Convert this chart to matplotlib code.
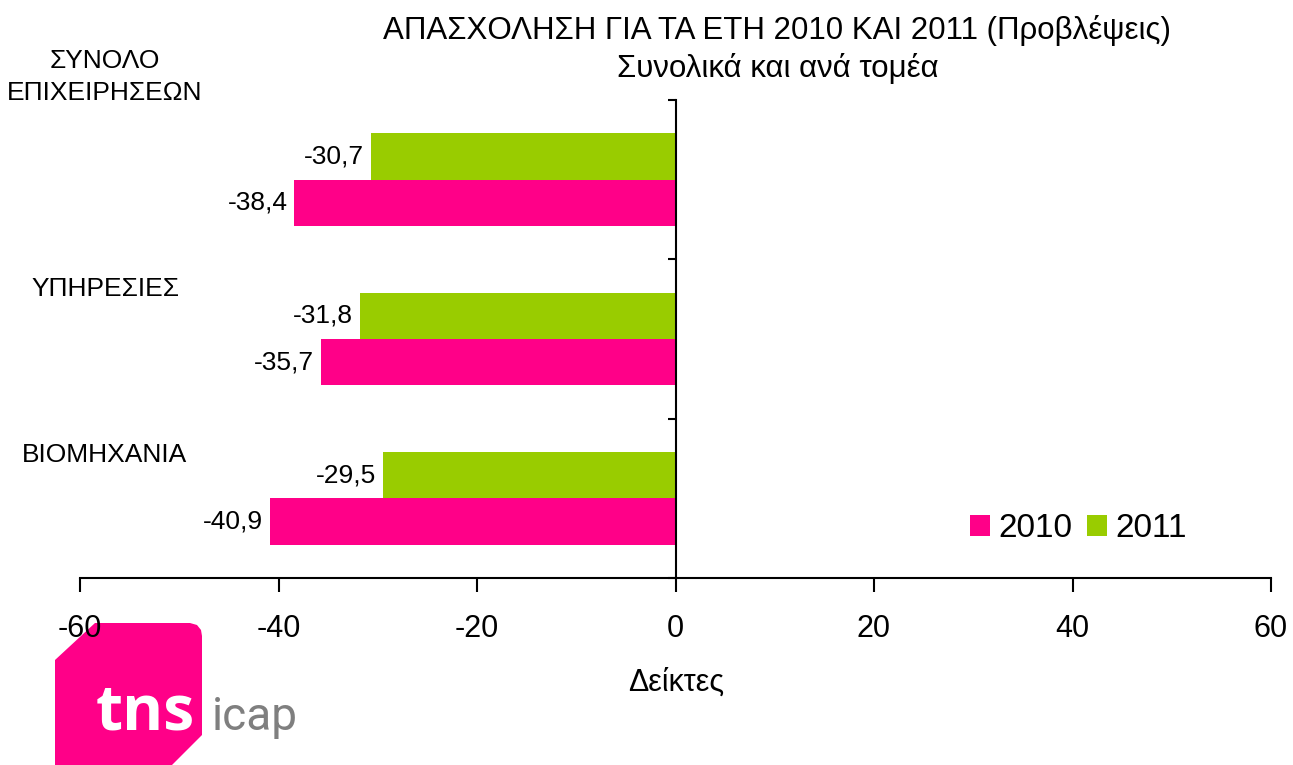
import matplotlib
matplotlib.use("Agg")
import matplotlib.pyplot as plt
from matplotlib.patches import Polygon
import numpy as np

plt.rcParams['font.family'] = ['Liberation Sans', 'DejaVu Sans']

categories = ["ΒΙΟΜΗΧΑΝΙΑ", "ΥΠΗΡΕΣΙΕΣ", "ΣΥΝΟΛΟ\nΕΠΙΧΕΙΡΗΣΕΩΝ"]
values_2010 = [-40.9, -35.7, -38.4]
values_2011 = [-29.5, -31.8, -30.7]
series_names = ["2010", "2011"]
x_ticks = [-60, -40, -20, 0, 20, 40, 60]
title1 = "ΑΠΑΣΧΟΛΗΣΗ ΓΙΑ ΤΑ ΕΤΗ 2010 ΚΑΙ 2011 (Προβλέψεις)"
title2 = "Συνολικά και ανά τομέα"
xlabel = "Δείκτες"

PINK = "#FF0088"
GREEN = "#99CC00"

W, H = 1293, 765
fig = plt.figure(figsize=(W / 100, H / 100), dpi=100)
fig.patch.set_facecolor("white")


def px(x, y):
    return (x / W, 1 - y / H)


ax = fig.add_axes([80 / W, 1 - 578 / H, (1271 - 80) / W, (578 - 100) / H])
ax.set_facecolor("none")

y = np.arange(len(categories))
h = 0.29
b10 = ax.barh(y - h / 2, values_2010, height=h, color=PINK, label=series_names[0])
b11 = ax.barh(y + h / 2, values_2011, height=h, color=GREEN, label=series_names[1])

for bars, vals in ((b10, values_2010), (b11, values_2011)):
    for bar, v in zip(bars, vals):
        ax.annotate(f"{v:.1f}".replace(".", ","),
                    xy=(v, bar.get_y() + bar.get_height() / 2),
                    xytext=(-5, 0), textcoords="offset points",
                    ha="right", va="center", fontsize=19)

ax.set_xlim(-60, 60)
ax.set_ylim(-0.5, len(categories) - 0.5)
ax.set_xticks(x_ticks)
ax.set_xticklabels([str(t) for t in x_ticks], fontsize=22)
ax.set_yticks(np.arange(-0.5, len(categories), 1.0))
ax.set_yticklabels([])

for s in ("top", "right"):
    ax.spines[s].set_visible(False)
ax.spines["left"].set_position(("data", 0))
ax.spines["left"].set_linewidth(1.5)
ax.spines["bottom"].set_linewidth(1.5)
ax.tick_params(axis="x", direction="out", length=10, width=1.5, pad=16)
ax.tick_params(axis="y", direction="out", length=6, width=1.5)

fig.text(*px(676, 683), xlabel, ha="center", va="center", fontsize=22)

# category labels (placed at left, as in the original)
cat_pos = [(105, 455), (105, 289), (105, 77)]
for name, (cx, cy) in zip(categories, cat_pos):
    fig.text(*px(cx, cy), name, ha="center", va="center", fontsize=19,
             linespacing=1.45)

fig.text(*px(777, 30), title1, ha="center", va="center", fontsize=22.5)
fig.text(*px(778, 69), title2, ha="center", va="center", fontsize=22.5)

leg = ax.legend(handles=[b10, b11], loc="lower right",
                bbox_to_anchor=((1187 - 80) / (1271 - 80), (578 - 544) / (578 - 100)),
                ncol=2, frameon=False, fontsize=24, handlelength=0.6,
                handleheight=0.6, handletextpad=0.25, columnspacing=0.45,
                borderpad=0, borderaxespad=0)

# logo
pts = [(55, 660), (95, 623), (190, 623), (197, 625), (201, 630), (202, 636),
       (202, 735), (172, 765), (55, 765)]
logo = Polygon([px(x, yy) for x, yy in pts], closed=True, transform=fig.transFigure,
               facecolor=PINK, edgecolor="none", zorder=-5)
fig.patches.append(logo)
fig.text(*px(96, 729), "tns", color="white", fontsize=45, fontweight="bold",
         family=["Open Sans", "DejaVu Sans"], ha="left", va="baseline", zorder=-4)
fig.text(*px(212, 730), "icap", color="#7f7f7f", fontsize=33,
         family=["Roboto", "DejaVu Sans"], fontweight="normal", ha="left",
         va="baseline", zorder=-4)

fig.savefig("out.png", dpi=100, facecolor="white")
